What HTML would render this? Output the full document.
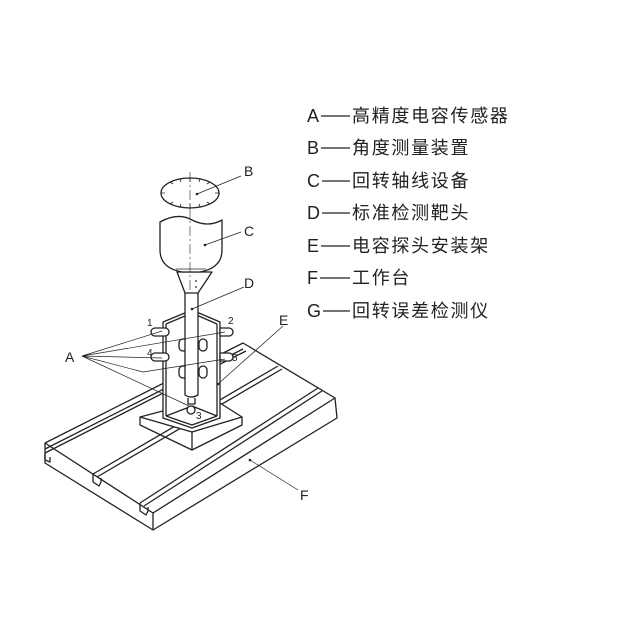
<!DOCTYPE html>
<html><head><meta charset="utf-8"><style>
html,body{margin:0;padding:0;background:#fff;width:620px;height:620px;overflow:hidden}
svg{display:block}
.t{font-family:"Liberation Sans","Noto Sans CJK SC",sans-serif;font-size:18px;fill:#222;letter-spacing:1.7px}
.k{font-family:"Liberation Sans",sans-serif;font-size:18px;fill:#222}
.l{font-family:"Liberation Sans",sans-serif;font-size:14px;fill:#222}
.n{font-family:"Liberation Sans",sans-serif;font-size:10px;fill:#222}
</style></head><body>
<svg width="620" height="620" viewBox="0 0 620 620" xmlns="http://www.w3.org/2000/svg">
<g fill="none" stroke="#222" stroke-width="1.3" stroke-linejoin="round">
<path d="M45,443 L243,343 L335,398 L153,513 Z" fill="#fff"/>
<path d="M45,443 L45,463 L153,530 L337,418 L335,398"/>
<path d="M153,513 L153,530"/>
<path d="M45,449 L243,349 M45,453 L246,351"/>
<path d="M45,453 L45,460 L50,462 L50,457"/>
<path d="M93,474 L278,366 M97,477 L282,369 M93,474 L93,482 L99,486 L101,482 L101,478"/>
<path d="M140,503 L318,388 M144,506 L322,391 M140,503 L140,511 L146,515 L148,511 L148,507"/>
<path d="M140,417 L212,398 L242,417 L192,432 Z" fill="#fff"/>
<path d="M140,417 L140,425 L192,450 L242,425 L242,417 M192,432 L192,450"/>
<path d="M163,322 L192,310 L220,322 L220,418 L192,428 L163,418 Z" fill="#fff"/>
<path d="M166,324 L192,313 L217,324 M166,324 L166,416 M217,324 L217,416 M166,416 L192,425 L217,416"/>
<path d="M166,416 L192,406 L217,416"/>
<g fill="#fff">
<path d="M155,328 h10 a4,4 0 0 1 0,8 h-10 a4,4 0 0 1 0,-8z"/>
<path d="M220,328 h9 a4,4 0 0 1 0,8 h-9z"/>
<path d="M155,353 h10 a4,4 0 0 1 0,8 h-10 a4,4 0 0 1 0,-8z"/>
<path d="M220,353 h9 a4,4 0 0 1 0,8 h-9z"/>
<path d="M179,343 a4,4 0 0 1 8,0 v4 a4,4 0 0 1 -8,0z"/>
<path d="M199,343 a4,4 0 0 1 8,0 v4 a4,4 0 0 1 -8,0z"/>
<path d="M179,370 a4,4 0 0 1 8,0 v4 a4,4 0 0 1 -8,0z"/>
<path d="M199,370 a4,4 0 0 1 8,0 v4 a4,4 0 0 1 -8,0z"/>
<circle cx="191" cy="410" r="4"/>
</g>
<path d="M185,293 L185,395 Q191,399 198,395 L198,293" fill="#fff"/>
<path d="M188,398 L188,404 L195,404 L195,398"/>
<path d="M177,272 L212,272 L198,293 L185,293 Z" fill="#fff"/>
<path d="M160,222 Q178,212 192,220 Q208,228 222,220 L222,250 Q222,268 200,272 L182,272 Q160,268 160,250 Z" fill="#fff"/>
<path d="M176,269 L206,269" stroke-width="0.8"/>
<ellipse cx="190" cy="193" rx="29" ry="15" fill="#fff"/>
<g stroke-width="0.8">
<path d="M190,178 v4 M190,208 v-4 M161,193 h4 M219,193 h-4 M170,182 l3,2 M210,182 l-3,2 M170,204 l3,-2 M210,204 l-3,-2 M180,179 l1,3 M200,179 l-1,3 M180,207 l1,-3 M200,207 l-1,-3"/>
</g>
<path d="M190,172 L190,292" stroke-width="0.6" stroke-dasharray="10,3,2,3"/>
<g stroke-width="0.7">
<path d="M197,194 L241,176"/>
<path d="M205,245 L241,232"/>
<path d="M192,309 L244,287"/>
<path d="M218,384 L283,326"/>
<path d="M250,460 L298,490"/>
<path d="M82,356 L162,331 M82,356 L225,332 M82,356 L162,358 M82,356 L143,372 L225,359 M82,356 L189,406"/>
</g>
<g stroke-width="1.2">
<path d="M321,116 H350 M321,148 H350 M322,181 H350 M322,213 H350 M321,246 H350 M320,278 H350 M323,311 H350"/>
</g>
</g>
<g fill="#222">
<circle cx="197" cy="194" r="1.3"/><circle cx="205" cy="245" r="1.3"/><circle cx="192" cy="309" r="1.3"/>
<circle cx="218" cy="384" r="1.3"/><circle cx="250" cy="460" r="1.3"/>
<circle cx="196" cy="281" r="0.9"/><circle cx="196" cy="287" r="0.9"/>
</g>
<text class="l" x="244" y="176">B</text>
<text class="l" x="244" y="236">C</text>
<text class="l" x="244" y="288">D</text>
<text class="l" x="279" y="325">E</text>
<text class="l" x="300" y="500">F</text>
<text class="l" x="65" y="362">A</text>
<text class="n" x="147" y="326">1</text>
<text class="n" x="228" y="324">2</text>
<text class="n" x="196" y="419">3</text>
<text class="n" x="147" y="356">4</text>
<text class="n" x="232" y="361">5</text>
<g class="k">
<text x="307" y="122">A</text><text x="307" y="154">B</text><text x="307" y="187">C</text>
<text x="307" y="219">D</text><text x="307" y="252">E</text><text x="307" y="284">F</text>
<text x="307" y="317">G</text>
</g>
<g class="t">
<text x="352" y="122">高精度电容传感器</text>
<text x="352" y="154">角度测量装置</text>
<text x="352" y="187">回转轴线设备</text>
<text x="352" y="219">标准检测靶头</text>
<text x="352" y="252">电容探头安装架</text>
<text x="352" y="284">工作台</text>
<text x="352" y="317">回转误差检测仪</text>
</g>
</svg>
</body></html>
